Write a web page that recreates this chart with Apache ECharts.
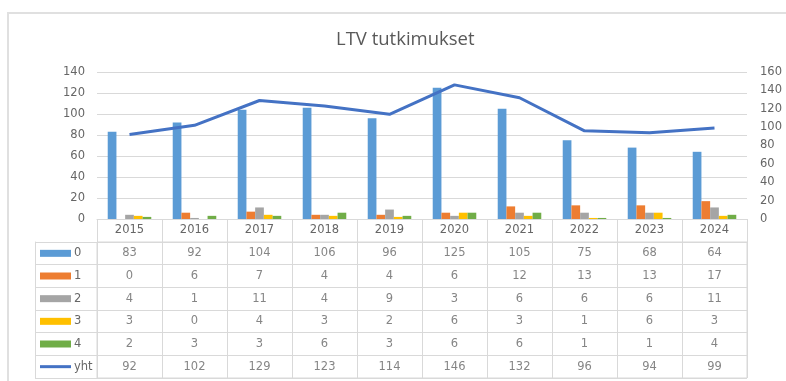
<!DOCTYPE html>
<html>
<head>
<meta charset="utf-8">
<script src="https://cdn.jsdelivr.net/npm/echarts@6/dist/echarts.min.js"></script>
<style>
  html, body { margin: 0; padding: 0; background: #fff; }
  #chart { width: 786px; height: 381px; }
</style>
</head>
<body>
<div id="chart"></div>
<script>
// Yearly counts of LTV examinations by class, plus the yearly total
const years = ['2015', '2016', '2017', '2018', '2019', '2020', '2021', '2022', '2023', '2024'];
const seriesNames = ['0', '1', '2', '3', '4', 'yht'];
const s0 = [83, 92, 104, 106, 96, 125, 105, 75, 68, 64];
const s1 = [0, 6, 7, 4, 4, 6, 12, 13, 13, 17];
const s2 = [4, 1, 11, 4, 9, 3, 6, 6, 6, 11];
const s3 = [3, 0, 4, 3, 2, 6, 3, 1, 6, 3];
const s4 = [2, 3, 3, 6, 3, 6, 6, 1, 1, 4];
const yht = [92, 102, 129, 123, 114, 146, 132, 96, 94, 99];

const barRows = [s0, s1, s2, s3, s4];
const allRows = [s0, s1, s2, s3, s4, yht];
const colors = ['#5B9BD5', '#ED7D31', '#A5A5A5', '#FFC000', '#70AD47', '#4472C4'];

const textColor = '#666666';
const lineColor = '#D9D9D9';
const font = 'DejaVu Sans';
const fontSize = 11.5;

// Cells of the data table: [column, row, value]
const tableCells = [];
allRows.forEach((row, r) => row.forEach((v, c) => tableCells.push([c, r, v])));

// Legend keys in the table's first column
const rich = { t: { color: textColor, fontSize: fontSize, fontFamily: font, padding: [0, 0, 0, 3] } };
colors.forEach((col, i) => {
  rich['k' + i] = i < 5
    ? { width: 31, height: 7, backgroundColor: col }
    : { width: 31, height: 3, backgroundColor: col };
});

const chart = echarts.init(document.getElementById('chart'), null, { renderer: 'canvas' });

const barSeries = barRows.map((data, i) => ({
  name: seriesNames[i],
  type: 'bar',
  xAxisIndex: 0,
  yAxisIndex: 0,
  data: data,
  barGap: '0%',
  barCategoryGap: '33%',
  itemStyle: { color: colors[i] }
}));

chart.setOption({
  animation: false,
  title: {
    text: 'LTV tutkimukset',
    left: 331,
    top: 25,
    textStyle: { color: '#595959', fontSize: 18.5, fontWeight: 'normal', fontFamily: 'Open Sans' }
  },
  graphic: [{
    type: 'rect',
    shape: { x: 8, y: 13, width: 800, height: 400 },
    style: { fill: 'none', stroke: '#E0E0E0', lineWidth: 2 },
    silent: true
  }],
  grid: [
    { left: 97, top: 72, width: 650, height: 147 },
    { left: 97, top: 242, width: 650, height: 136, show: true, borderColor: lineColor, borderWidth: 1 }
  ],
  xAxis: [
    {
      type: 'category', gridIndex: 0, data: years,
      axisLine: { lineStyle: { color: lineColor } },
      axisTick: { show: true, length: 23, interval: 0, lineStyle: { color: lineColor } },
      axisLabel: { color: textColor, fontSize: fontSize, fontFamily: font, margin: 5, interval: 0 }
    },
    {
      type: 'category', gridIndex: 1, data: years,
      axisLine: { show: false }, axisTick: { show: false }, axisLabel: { show: false },
      splitLine: { show: true, interval: 0, lineStyle: { color: lineColor } }
    }
  ],
  yAxis: [
    {
      type: 'value', gridIndex: 0, min: 0, max: 140, interval: 20,
      axisLine: { show: false }, axisTick: { show: false },
      axisLabel: { color: textColor, fontSize: fontSize, fontFamily: font, margin: 12 },
      splitLine: { lineStyle: { color: lineColor } }
    },
    {
      type: 'value', gridIndex: 0, min: 0, max: 160, interval: 20, position: 'right',
      axisLine: { show: false }, axisTick: { show: false },
      axisLabel: { color: textColor, fontSize: fontSize, fontFamily: font, margin: 13 },
      splitLine: { show: false }
    },
    {
      type: 'category', gridIndex: 1, data: seriesNames, inverse: true,
      axisLine: { show: false },
      axisTick: { show: true, length: 62, interval: 0, lineStyle: { color: lineColor } },
      axisLabel: {
        interval: 0, align: 'left', margin: 57,
        formatter: (v, i) => '{k' + i + '|}{t|' + v + '}',
        rich: rich
      },
      splitLine: { show: true, interval: 0, lineStyle: { color: lineColor } }
    },
    {
      type: 'category', gridIndex: 1, data: seriesNames, inverse: true,
      position: 'left', offset: 62,
      axisLine: { show: true, lineStyle: { color: lineColor } },
      axisTick: { show: false }, axisLabel: { show: false }, splitLine: { show: false }
    }
  ],
  series: [
    ...barSeries,
    {
      name: 'yht',
      type: 'line',
      xAxisIndex: 0,
      yAxisIndex: 1,
      data: yht,
      symbol: 'none',
      lineStyle: { color: colors[5], width: 3 },
      itemStyle: { color: colors[5] }
    },
    {
      type: 'scatter',
      xAxisIndex: 1,
      yAxisIndex: 2,
      data: tableCells,
      symbolSize: 0,
      encode: { x: 0, y: 1 },
      label: {
        show: true,
        position: 'inside',
        formatter: p => String(p.value[2]),
        color: textColor,
        fontSize: fontSize,
        fontFamily: font
      },
      silent: true
    }
  ]
});
</script>
</body>
</html>
